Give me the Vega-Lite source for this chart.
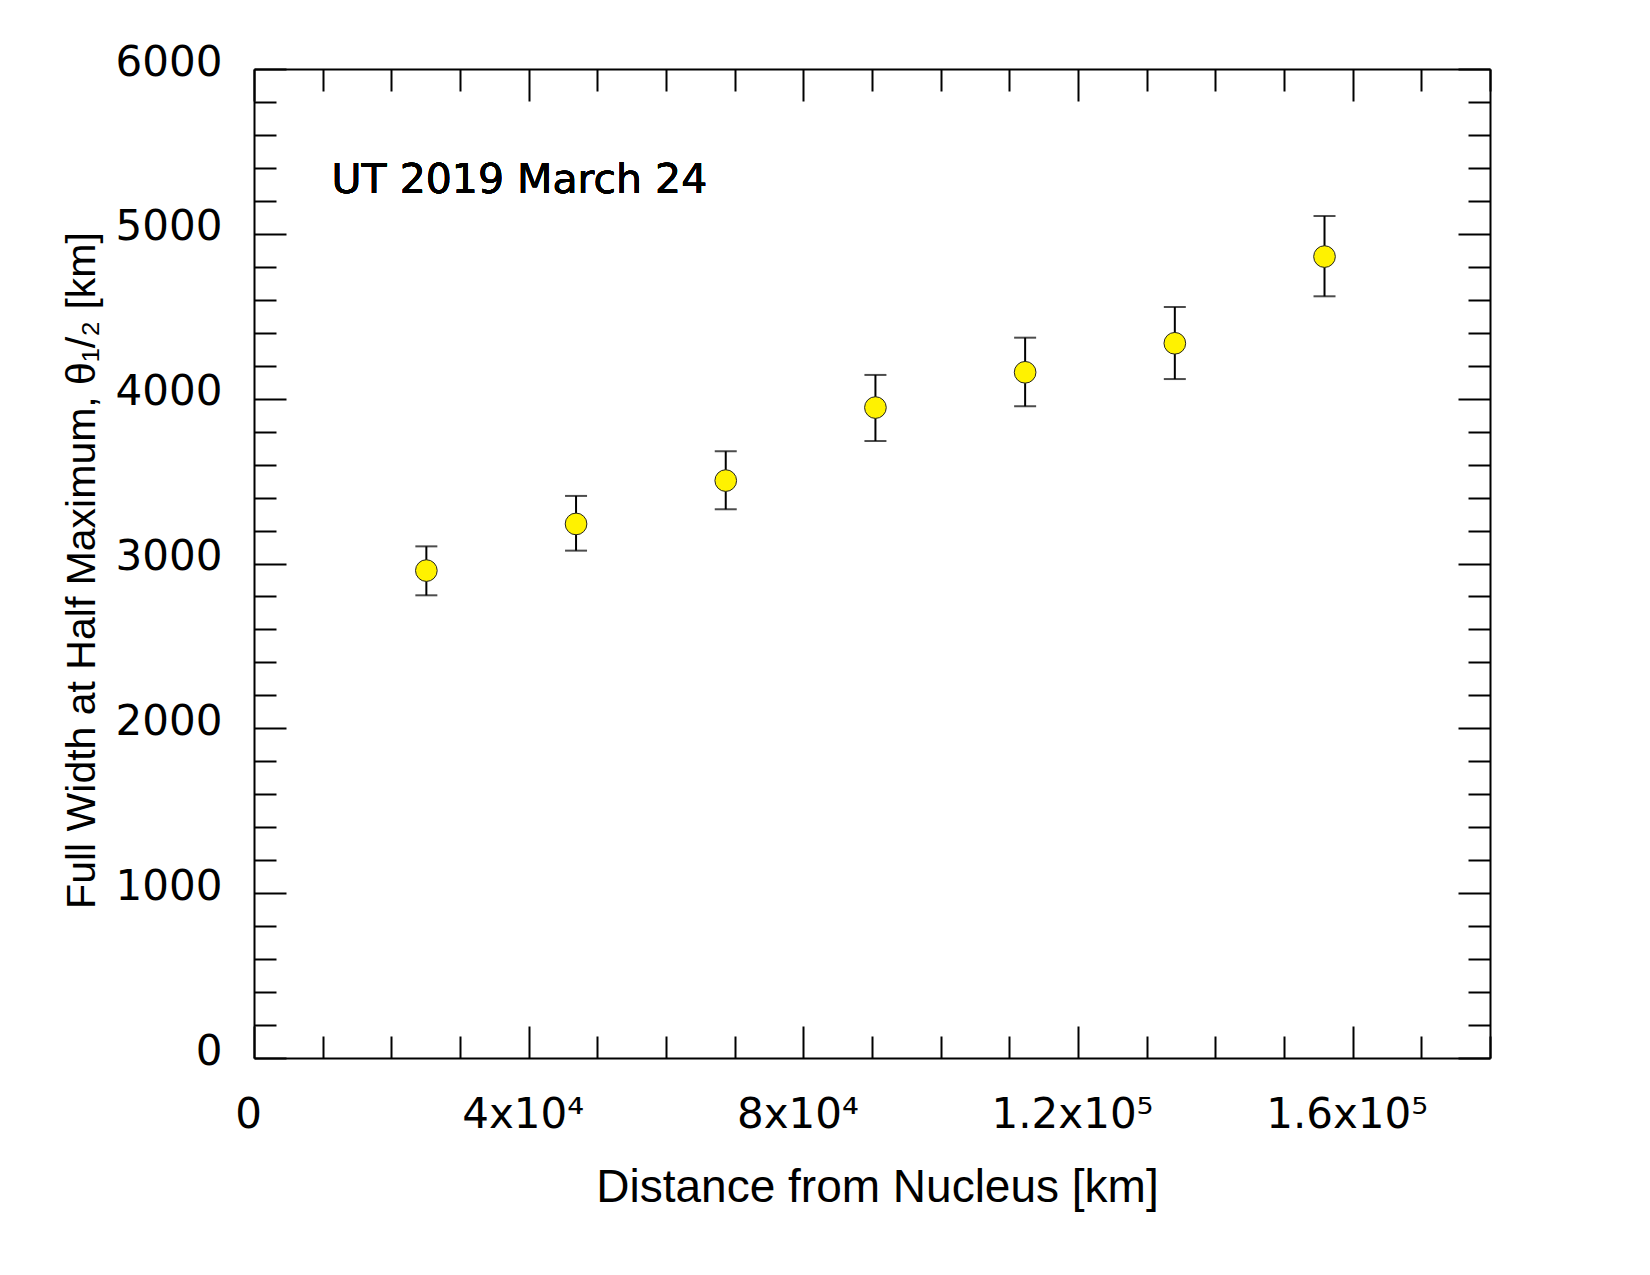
{
  "$schema": "https://vega.github.io/schema/vega-lite/v6.json",
  "width": 1236,
  "height": 989,
  "autosize": {"type": "none"},
  "padding": {"left": 254, "top": 69, "right": 160, "bottom": 217},
  "background": "white",
  "config": {"view": {"stroke": null}},
  "data": {
    "values": [
      {"distance": 25100, "fwhm": 2957, "lo": 2807, "hi": 3104},
      {"distance": 46900, "fwhm": 3240, "lo": 3078, "hi": 3410},
      {"distance": 68700, "fwhm": 3503, "lo": 3329, "hi": 3681},
      {"distance": 90500, "fwhm": 3946, "lo": 3743, "hi": 4144},
      {"distance": 112300, "fwhm": 4160, "lo": 3954, "hi": 4370},
      {"distance": 134100, "fwhm": 4336, "lo": 4119, "hi": 4556},
      {"distance": 155900, "fwhm": 4862, "lo": 4621, "hi": 5108}
    ]
  },
  "layer": [
    {
      "mark": {"type": "rule", "color": "black", "strokeWidth": 2},
      "encoding": {
        "x": {
          "field": "distance", "type": "quantitative",
          "scale": {"domain": [0, 180000], "nice": false, "zero": false},
          "axis": {
            "orient": "top", "title": null, "labels": false, "grid": false,
            "values": [0, 10000, 20000, 30000, 40000, 50000, 60000, 70000, 80000, 90000, 100000, 110000, 120000, 130000, 140000, 150000, 160000, 170000, 180000],
            "domainColor": "black", "domainWidth": 2,
            "tickColor": "black", "tickWidth": 2,
            "tickSize": {"condition": {"test": "datum.value % 40000 === 0", "value": -32}, "value": -22}
          }
        },
        "y": {
          "field": "lo", "type": "quantitative",
          "scale": {"domain": [0, 6000], "nice": false, "zero": false},
          "axis": {
            "orient": "right", "title": null, "labels": false, "grid": false,
            "values": [0, 200, 400, 600, 800, 1000, 1200, 1400, 1600, 1800, 2000, 2200, 2400, 2600, 2800, 3000, 3200, 3400, 3600, 3800, 4000, 4200, 4400, 4600, 4800, 5000, 5200, 5400, 5600, 5800, 6000],
            "domainColor": "black", "domainWidth": 2,
            "tickColor": "black", "tickWidth": 2,
            "tickSize": {"condition": {"test": "datum.value % 1000 === 0", "value": -32}, "value": -22}
          }
        },
        "y2": {"field": "hi"}
      }
    },
    {
      "transform": [{"fold": ["lo", "hi"], "as": ["end", "value"]}],
      "mark": {"type": "tick", "orient": "horizontal", "size": 22, "thickness": 2, "color": "black"},
      "encoding": {
        "x": {"field": "distance", "type": "quantitative", "axis": null},
        "y": {"field": "value", "type": "quantitative", "axis": null}
      }
    },
    {
      "mark": {"type": "circle", "size": 470, "fill": "#fff200", "stroke": "#222222", "strokeWidth": 1, "opacity": 1, "fillOpacity": 1},
      "encoding": {
        "x": {
          "field": "distance", "type": "quantitative",
          "axis": {
            "orient": "bottom", "grid": false,
            "values": [0, 10000, 20000, 30000, 40000, 50000, 60000, 70000, 80000, 90000, 100000, 110000, 120000, 130000, 140000, 150000, 160000, 170000, 180000],
            "domainColor": "black", "domainWidth": 2,
            "tickColor": "black", "tickWidth": 2,
            "tickSize": {"condition": {"test": "datum.value % 40000 === 0", "value": -32}, "value": -22},
            "labelExpr": "datum.value === 0 ? '0' : datum.value === 40000 ? '4x10⁴' : datum.value === 80000 ? '8x10⁴' : datum.value === 120000 ? '1.2x10⁵' : datum.value === 160000 ? '1.6x10⁵' : ''",
            "labelFont": "DejaVu Sans", "labelFontSize": 42, "labelColor": "black",
            "labelBaseline": "alphabetic", "labelPadding": 101, "labelOffset": -6,
            "labelFlush": false, "labelOverlap": false,
            "title": "Distance from Nucleus [km]",
            "titleFont": "Liberation Sans", "titleFontSize": 46, "titleFontWeight": "normal", "titleColor": "black",
            "titleX": 623, "titleY": 143, "titleAlign": "center", "titleBaseline": "alphabetic"
          }
        },
        "y": {
          "field": "fwhm", "type": "quantitative",
          "axis": {
            "orient": "left", "grid": false,
            "values": [0, 200, 400, 600, 800, 1000, 1200, 1400, 1600, 1800, 2000, 2200, 2400, 2600, 2800, 3000, 3200, 3400, 3600, 3800, 4000, 4200, 4400, 4600, 4800, 5000, 5200, 5400, 5600, 5800, 6000],
            "format": "d",
            "domainColor": "black", "domainWidth": 2,
            "tickColor": "black", "tickWidth": 2,
            "tickSize": {"condition": {"test": "datum.value % 1000 === 0", "value": -32}, "value": -22},
            "labelExpr": "datum.value % 1000 === 0 ? datum.label : ''",
            "labelFont": "DejaVu Sans", "labelFontSize": 42, "labelColor": "black",
            "labelBaseline": "middle", "labelPadding": 64, "labelOffset": -7,
            "labelFlush": false, "labelOverlap": false,
            "title": "Full Width at Half Maximum, θ₁/₂ [km]",
            "titleFont": "Liberation Sans", "titleFontSize": 41, "titleFontWeight": "normal", "titleColor": "black",
            "titleX": -160, "titleY": 501, "titleAngle": -90, "titleAlign": "center", "titleBaseline": "alphabetic"
          }
        }
      }
    },
    {
      "mark": {"type": "text", "text": "UT 2019 March 24", "font": "DejaVu Sans", "fontSize": 41, "color": "black", "align": "left", "baseline": "alphabetic"},
      "encoding": {
        "x": {"datum": 11300, "type": "quantitative", "axis": null},
        "y": {"datum": 5250, "type": "quantitative", "axis": null}
      }
    }
  ],
  "resolve": {"axis": {"x": "independent", "y": "independent"}}
}
